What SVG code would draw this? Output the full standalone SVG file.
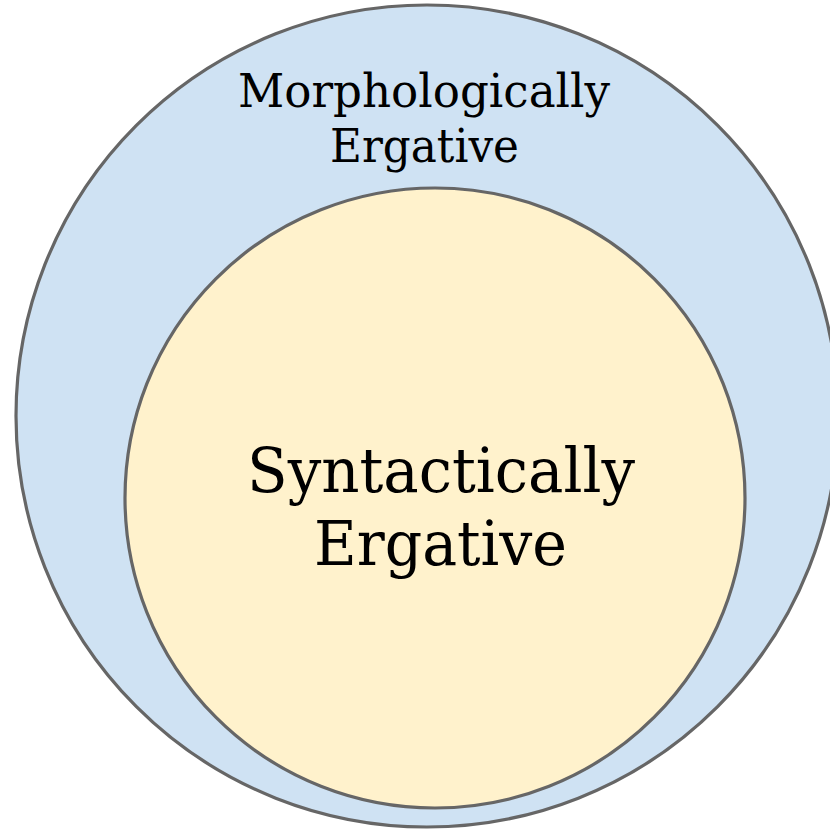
<svg xmlns="http://www.w3.org/2000/svg" width="830" height="830" viewBox="0 0 830 830">
<style>
.c{stroke:#666666;stroke-width:3.2}
.t{font-family:"DejaVu Serif","Liberation Serif",serif;fill:#000000;text-anchor:middle}
</style>
<rect width="830" height="830" fill="#ffffff"/>
<g id="morphologically-ergative">
<circle class="c" cx="427" cy="416" r="411" fill="#cfe2f3"/>
<text class="t" font-size="46"><tspan x="424" y="107" textLength="372" lengthAdjust="spacingAndGlyphs">Morphologically</tspan><tspan x="424.5" y="162" textLength="189" lengthAdjust="spacingAndGlyphs">Ergative</tspan></text>
</g>
<g id="syntactically-ergative">
<circle class="c" cx="435" cy="498" r="310" fill="#fff2cc"/>
<text class="t" font-size="62"><tspan x="441" y="492" textLength="388" lengthAdjust="spacingAndGlyphs">Syntactically</tspan><tspan x="440.5" y="565" textLength="253" lengthAdjust="spacingAndGlyphs">Ergative</tspan></text>
</g>
<g id="connectors"/>
</svg>
